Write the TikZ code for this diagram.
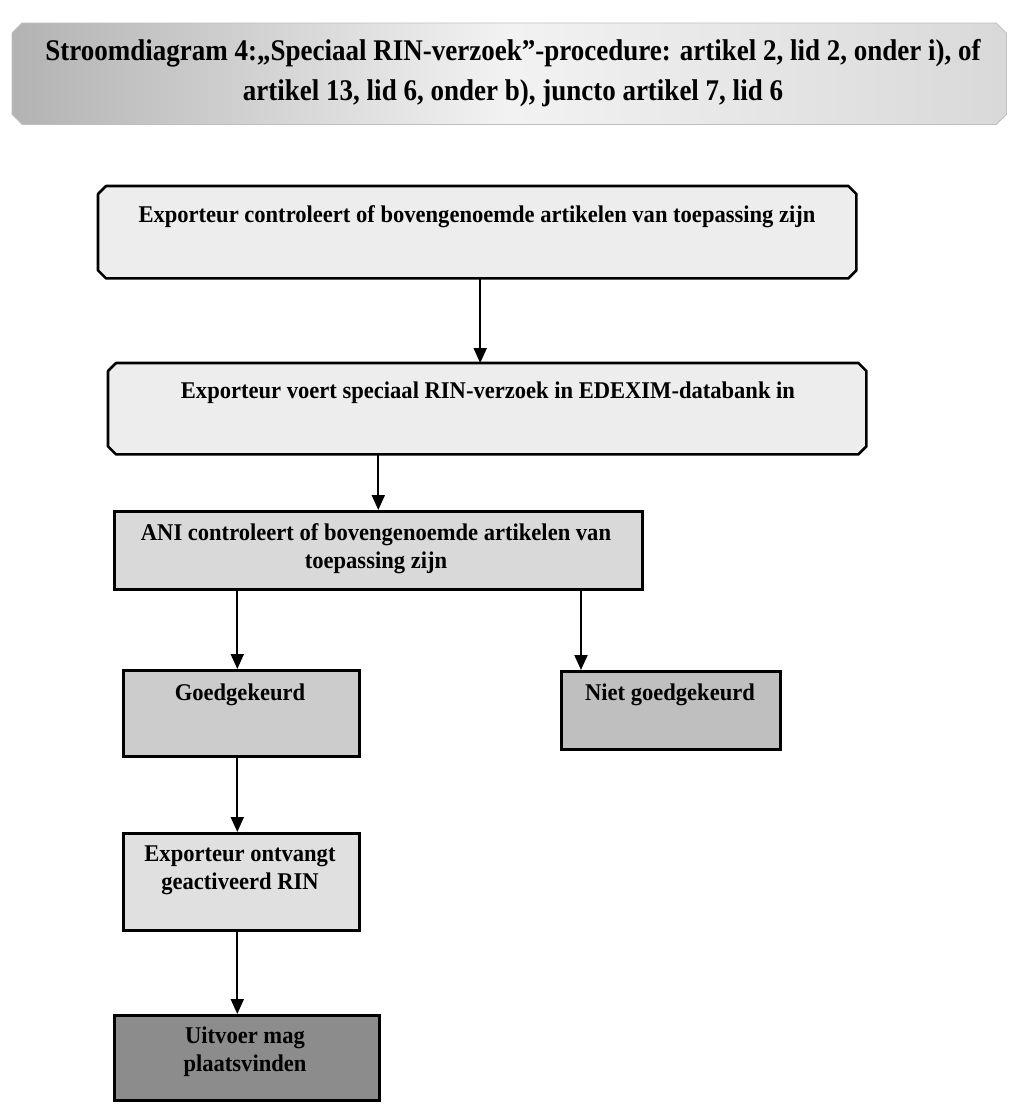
\documentclass[tikz,border=0pt]{standalone}
\usepackage{fontspec}
\setmainfont{Liberation Serif}
\usetikzlibrary{arrows.meta}
\begin{document}
\begin{tikzpicture}[x=1pt,y=-1pt,
  chbox/.style={rectangle, draw=none, anchor=north west, inner sep=0pt},
  chline/.style={draw=black, line width=2.6pt, fill=black!7, line join=round},
  sqbox/.style={rectangle, draw=black, line width=2.6pt, anchor=north west, inner sep=0pt},
  txt/.style={font=\bfseries\addfontfeature{FakeStretch=0.94}\fontsize{24}{28}\selectfont, align=center, anchor=base, inner sep=0pt},
  arr/.style={line width=2pt, -{Triangle[width=13pt,length=15pt]}}]
\useasboundingbox (0,0) rectangle (1024,1111);
% title
\node[rectangle, anchor=north west, inner sep=0pt, minimum width=994pt, minimum height=101pt] (title) at (12,23) {};
\path[draw=black!25, line width=0.8pt, left color=black!30, right color=black!15, middle color=black!5]
  ([xshift=10pt]title.north west) -- ([xshift=-10pt]title.north east) -- ([yshift=-10pt]title.north east)
  -- ([yshift=10pt]title.south east) -- ([xshift=-10pt]title.south east) -- ([xshift=10pt]title.south west)
  -- ([yshift=10pt]title.south west) -- ([yshift=-10pt]title.north west) -- cycle;
\node[font=\bfseries\addfontfeature{FakeStretch=0.9}\fontsize{30}{40}\selectfont, align=center, anchor=base, inner sep=0pt] (tt) at (513,100)
  {Stroomdiagram 4:„Speciaal RIN-verzoek”-procedure: artikel 2, lid 2, onder i), of\\ artikel 13, lid 6, onder b), juncto artikel 7, lid 6};
% boxes
\node[chbox, minimum width=758pt, minimum height=92pt] (b1) at (98,186) {};
\path[chline] ([xshift=8pt]b1.north west) -- ([xshift=-8pt]b1.north east) -- ([yshift=-8pt]b1.north east)
  -- ([yshift=8pt]b1.south east) -- ([xshift=-8pt]b1.south east) -- ([xshift=8pt]b1.south west)
  -- ([yshift=8pt]b1.south west) -- ([yshift=-8pt]b1.north west) -- cycle;
\node[txt] (t1) at (477,222) {Exporteur controleert of bovengenoemde artikelen van toepassing zijn};
\node[chbox, minimum width=758pt, minimum height=91pt] (b2) at (108,363) {};
\path[chline] ([xshift=8pt]b2.north west) -- ([xshift=-8pt]b2.north east) -- ([yshift=-8pt]b2.north east)
  -- ([yshift=8pt]b2.south east) -- ([xshift=-8pt]b2.south east) -- ([xshift=8pt]b2.south west)
  -- ([yshift=8pt]b2.south west) -- ([yshift=-8pt]b2.north west) -- cycle;
\node[txt] (t2) at (488,398) {Exporteur voert speciaal RIN-verzoek in EDEXIM-databank in};
\node[sqbox, fill=black!15, minimum width=528pt, minimum height=78pt] (b3) at (113,510) {};
\node[txt] (t3) at (376,568) {ANI controleert of bovengenoemde artikelen van\\ toepassing zijn};
\node[sqbox, fill=black!20, minimum width=236pt, minimum height=86pt] (g) at (122,669) {};
\node[txt] (tg) at (240,700) {Goedgekeurd};
\node[sqbox, fill=black!25, minimum width=219pt, minimum height=78pt] (n) at (560,670) {};
\node[txt] (tn) at (670,700) {Niet goedgekeurd};
\node[sqbox, fill=black!12, minimum width=236pt, minimum height=97pt] (e) at (122,832) {};
\node[txt] (te) at (240,889) {Exporteur ontvangt\\ geactiveerd RIN};
\node[sqbox, fill=black!45, minimum width=265pt, minimum height=85pt] (u) at (113,1014) {};
\node[txt] (tu) at (245,1071) {Uitvoer mag\\ plaatsvinden};
% arrows
\draw[arr] ([xshift=3pt]b1.south) -- ([xshift=3pt]b1.south |- b2.north);
\draw[arr] (b3.north |- b2.south) -- (b3.north);
\draw[arr] ([xshift=-4pt]g.north |- b3.south) -- ([xshift=-4pt]g.north);
\draw[arr] ([xshift=21pt]n.north west |- b3.south) -- ([xshift=21pt]n.north west);
\draw[arr] ([xshift=-4pt]g.south) -- ([xshift=-4pt]g.south |- e.north);
\draw[arr] ([xshift=-4pt]e.south) -- ([xshift=-4pt]e.south |- u.north);
\end{tikzpicture}
\end{document}
